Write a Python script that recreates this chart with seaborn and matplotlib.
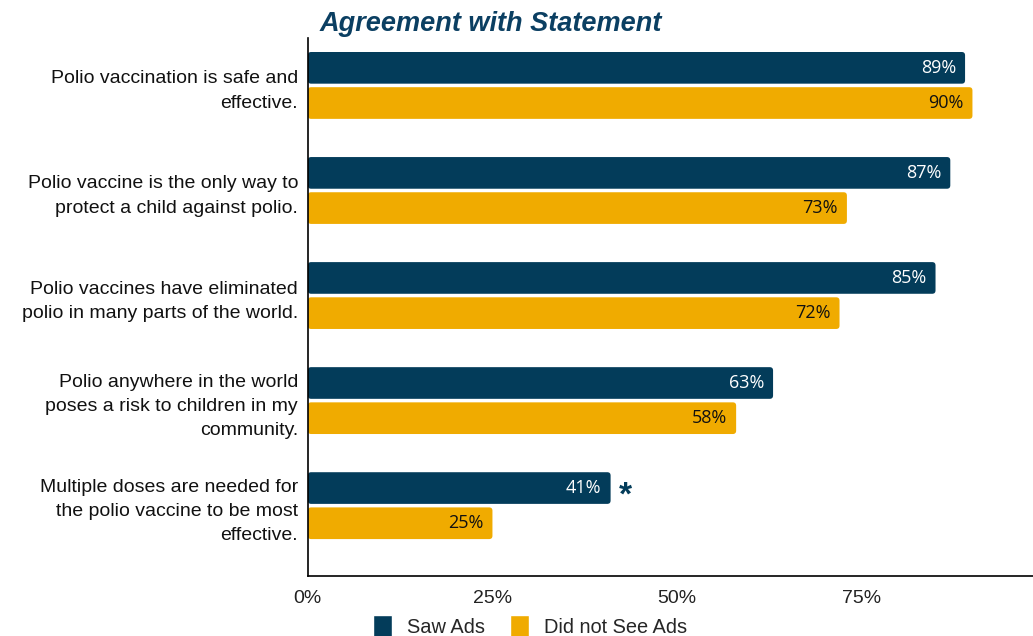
import matplotlib
matplotlib.use("Agg")
import matplotlib.pyplot as plt
from matplotlib.patches import FancyBboxPatch
import seaborn as sns
import pandas as pd

categories = [
    "Polio vaccination is safe and\neffective.",
    "Polio vaccine is the only way to\nprotect a child against polio.",
    "Polio vaccines have eliminated\npolio in many parts of the world.",
    "Polio anywhere in the world\nposes a risk to children in my\ncommunity.",
    "Multiple doses are needed for\nthe polio vaccine to be most\neffective.",
]
series_names = ["Saw Ads", "Did not See Ads"]
saw_ads = [89, 87, 85, 63, 41]
not_saw_ads = [90, 73, 72, 58, 25]
significant = [False, False, False, False, True]
xticks = [0, 25, 50, 75]
xtick_labels = ["0%", "25%", "50%", "75%"]

navy = "#033C5A"
gold = "#F0AB00"

df = pd.DataFrame({
    "Statement": categories * 2,
    "Group": [series_names[0]] * len(categories) + [series_names[1]] * len(categories),
    "Value": saw_ads + not_saw_ads,
})

sns.set_theme(style="white")
plt.rcParams["font.family"] = ["Liberation Sans", "DejaVu Sans"]

fig = plt.figure(figsize=(10.33, 6.36), dpi=100)
ax = fig.add_axes([0.298, 0.0943, 0.702, 0.8457])

sns.barplot(data=df, y="Statement", x="Value", hue="Group", orient="h",
            palette=[navy, gold], width=0.67, gap=0.1, ax=ax,
            saturation=1, legend=True)

ax.set_xlim(0, 98.2)
ax.set_ylim(4.67, -0.45)

# rounded bar corners
xppu = ax.bbox.width / 98.2
yppu = ax.bbox.height / 5.12
aspect = xppu / yppu
for cont in ax.containers:
    for p in cont:
        x, y, w, h = p.get_x(), p.get_y(), p.get_width(), p.get_height()
        fb = FancyBboxPatch((x, y), w, h,
                            boxstyle="round,pad=0,rounding_size=0.45",
                            mutation_aspect=aspect,
                            facecolor=p.get_facecolor(), edgecolor="none",
                            zorder=p.get_zorder())
        p.set_visible(False)
        ax.add_patch(fb)

ax.set_xticks(xticks)
ax.set_xticklabels(xtick_labels, fontsize=14, color="#222222")
ax.tick_params(axis="y", labelsize=14, length=0, pad=7, labelcolor="#111111")
ax.tick_params(axis="x", length=0, pad=10)
for lbl in ax.get_yticklabels():
    lbl.set_horizontalalignment("right")
    lbl.set_multialignment("right")
    lbl.set_linespacing(1.55)
ax.set_xlabel("")
ax.set_ylabel("")
for s in ["top", "right"]:
    ax.spines[s].set_visible(False)
for s in ["left", "bottom"]:
    ax.spines[s].set_color("black")
    ax.spines[s].set_linewidth(1.2)

# value labels
for i, cont in enumerate(ax.containers):
    color = "white" if i == 0 else "#111111"
    for p, v in zip(cont, cont.datavalues):
        ax.annotate(f"{v:.0f}%", xy=(p.get_width(), p.get_y() + p.get_height() / 2),
                    xytext=(-9, 0), textcoords="offset pixels",
                    ha="right", va="center", color=color, fontsize=13,
                    family=["Open Sans", "DejaVu Sans"])

# significance asterisk
bars0 = ax.containers[0]
for j, sig in enumerate(significant):
    if sig:
        b = bars0[j]
        ax.text(b.get_width() + 2.0, b.get_y() + b.get_height() / 2 + 0.08, "*",
                color=navy, fontsize=24, fontweight="bold", ha="center", va="center")

ax.set_title("Agreement with Statement", fontsize=19.5, fontweight="bold",
             fontstyle="italic", color="#0B3F62", loc="left", x=0.016, pad=5)

handles, labels = ax.get_legend_handles_labels()
ax.legend_.remove()
fig.legend(handles, labels, loc="center", bbox_to_anchor=(0.513, 0.016),
           ncol=2, frameon=False, fontsize=14.4, handlelength=0.95,
           handleheight=1.3, columnspacing=1.25, handletextpad=0.75,
           borderpad=0.0)

fig.savefig("out.png", dpi=100)
